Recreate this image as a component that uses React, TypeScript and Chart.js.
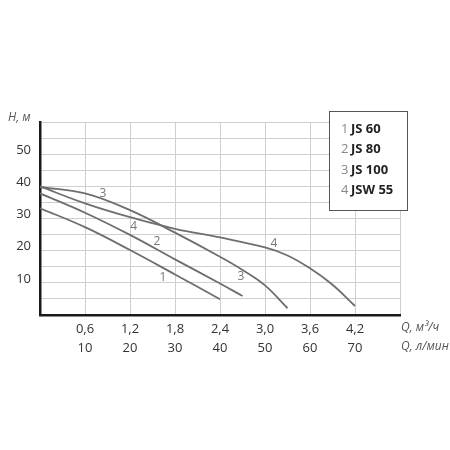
import { useEffect, useRef } from "react";
import { Chart, registerables } from "chart.js";
Chart.register(...registerables);

const qTickValues = [0.6, 1.2, 1.8, 2.4, 3.0, 3.6, 4.2];
const qTickLabels = ["0,6", "1,2", "1,8", "2,4", "3,0", "3,6", "4,2"];
const lpmTickLabels = ["10", "20", "30", "40", "50", "60", "70"];
const hTickValues = [10, 20, 30, 40, 50];
const seriesNumbers = ["1", "2", "3", "4"];
const seriesNames = ["JS 60", "JS 80", "JS 100", "JSW 55"];

const js60Q = [0, 0.6, 1.2, 1.8, 2.4];
const js60H = [33.2, 27.3, 20.2, 12.6, 4.9];
const js80Q = [0, 0.6, 1.2, 1.8, 2.4, 2.7];
const js80H = [37.8, 31.8, 24.9, 17.3, 9.8, 5.9];
const js100Q = [0, 0.6, 1.2, 1.8, 2.4, 2.7, 3.0, 3.3];
const js100H = [39.8, 37.8, 32.6, 25.6, 18.1, 14.0, 9.2, 2.1];
const jsw55Q = [0, 0.6, 1.2, 1.8, 2.4, 3.0, 3.3, 3.6, 3.9, 4.2];
const jsw55H = [40, 34.7, 30.4, 26.8, 24.1, 21.0, 18.5, 14.5, 9.4, 2.8];

const curveTagText = ["1", "2", "3", "3", "4", "4"];
const curveTagQ = [1.64, 1.56, 0.84, 2.68, 1.25, 3.12];
const curveTagH = [11.5, 22.7, 37.9, 11.8, 27.4, 22.1];

const FONT = "'Open Sans', 'Noto Sans', sans-serif";

const toPts = (q: number[], h: number[]) => q.map((x, i) => ({ x, y: h[i] }));

export default function App() {
  const ref = useRef<HTMLCanvasElement>(null);
  useEffect(() => {
    if (!ref.current) return;
    const overlay = {
      id: "overlay",
      afterDraw(chart: any) {
        const ctx = chart.ctx;
        const xs = chart.scales.x;
        const ys = chart.scales.y;
        ctx.save();
        ctx.fillStyle = "#777";
        ctx.font = `12px ${FONT}`;
        ctx.textAlign = "center";
        ctx.textBaseline = "middle";
        curveTagText.forEach((t, i) => {
          ctx.fillText(t, xs.getPixelForValue(curveTagQ[i]), ys.getPixelForValue(curveTagH[i]));
        });
        ctx.fillStyle = "#555";
        ctx.font = `italic 12px ${FONT}`;
        ctx.textAlign = "left";
        ctx.fillText("H, м", 8, 118);
        ctx.fillText("Q, м³/ч", xs.right + 1, 328);
        ctx.fillText("Q, л/мин", xs.right + 1, 347);
        const bx = 329, by = 111, bw = 78, bh = 99;
        ctx.fillStyle = "#fff";
        ctx.fillRect(bx, by, bw, bh);
        ctx.strokeStyle = "#555";
        ctx.lineWidth = 1;
        ctx.strokeRect(bx + 0.5, by + 0.5, bw, bh);
        const rows = [129, 149.5, 170, 190];
        seriesNames.forEach((n, i) => {
          ctx.font = `13px ${FONT}`;
          ctx.fillStyle = "#888";
          ctx.textAlign = "left";
          ctx.fillText(seriesNumbers[i], 341, rows[i]);
          ctx.font = `bold 13px ${FONT}`;
          ctx.fillStyle = "#222";
          ctx.fillText(n, 351, rows[i]);
        });
        ctx.restore();
      },
    };
    const lineStyle = {
      showLine: true,
      borderColor: "#6e6e6e",
      borderWidth: 1.8,
      pointRadius: 0,
      fill: false,
      tension: 0.4,
    };
    const chart = new Chart(ref.current, {
      type: "scatter",
      data: {
        datasets: [
          { label: seriesNames[0], data: toPts(js60Q, js60H), ...lineStyle },
          { label: seriesNames[1], data: toPts(js80Q, js80H), ...lineStyle },
          { label: seriesNames[2], data: toPts(js100Q, js100H), ...lineStyle },
          { label: seriesNames[3], data: toPts(jsw55Q, jsw55H), ...lineStyle },
        ],
      },
      options: {
        animation: false,
        responsive: false,
        layout: { padding: { top: 122, right: 50, left: 0, bottom: 0 } },
        plugins: { legend: { display: false }, tooltip: { enabled: false } },
        scales: {
          x: {
            type: "linear",
            min: 0,
            max: 4.8,
            afterBuildTicks: (s: any) => {
              s.ticks = [0, ...qTickValues, 4.8].map((v) => ({ value: v }));
            },
            afterFit: (s: any) => {
              s.height = 135;
            },
            grid: { color: "#cfcfcf", lineWidth: 1, drawTicks: false },
            border: { color: "#1a1a1a", width: 2.5 },
            ticks: {
              padding: 5,
              color: "#333",
              font: { family: FONT, size: 13, lineHeight: 1.45 },
              maxRotation: 0,
              autoSkip: false,
              callback: (v: any) => {
                const i = qTickValues.findIndex((q) => Math.abs(q - v) < 1e-6);
                return i < 0 ? "" : [qTickLabels[i], lpmTickLabels[i]];
              },
            },
          },
          y: {
            type: "linear",
            min: 0,
            max: 60,
            afterBuildTicks: (s: any) => {
              const t: any[] = [];
              for (let v = 0; v <= 60; v += 5) t.push({ value: v });
              s.ticks = t;
            },
            afterFit: (s: any) => {
              s.width = 40;
            },
            grid: { color: "#cfcfcf", lineWidth: 1, drawTicks: false },
            border: { color: "#1a1a1a", width: 2.5 },
            ticks: {
              padding: 9,
              labelOffset: -4,
              color: "#333",
              font: { family: FONT, size: 13 },
              autoSkip: false,
              callback: (v: any) => (hTickValues.includes(v) ? String(v) : ""),
            },
          },
        },
      },
      plugins: [overlay],
    });
    return () => chart.destroy();
  }, []);
  return (
    <div style={{ position: "absolute", left: 0, top: 0, width: 450, height: 450, background: "#fff" }}>
      <canvas ref={ref} width={450} height={450} style={{ width: 450, height: 450 }} />
    </div>
  );
}
